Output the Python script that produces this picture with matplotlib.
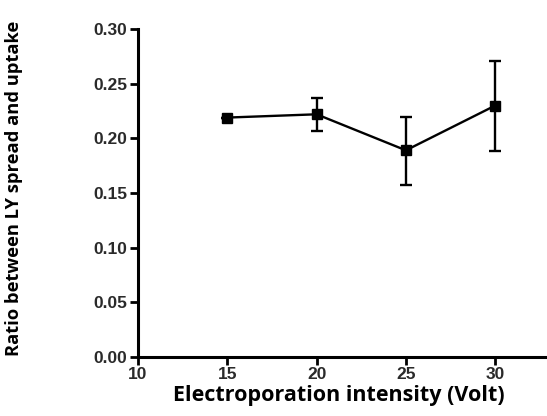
import numpy as np
import matplotlib.pyplot as plt

# data
voltage = [15, 20, 25, 30]
ratio = [0.219, 0.222, 0.189, 0.230]
err_low = [0.0, 0.015, 0.0315, 0.042]
err_high = [0.0, 0.015, 0.0305, 0.041]

x_ticks = [10, 15, 20, 25, 30]
y_ticks = [0.00, 0.05, 0.10, 0.15, 0.20, 0.25, 0.30]

fig = plt.figure(figsize=(5.47, 4.16), dpi=100)
ax = fig.add_axes([0.2523, 0.1425, 0.7477, 0.7875])

ax.errorbar(voltage, ratio, yerr=[err_low, err_high], color='black', lw=1.7,
            marker='s', ms=7, capsize=4, capthick=1.7, elinewidth=1.7)

ax.set_xlim(10, 32.9)
ax.set_ylim(0, 0.30)
ax.set_xticks(x_ticks)
ax.set_yticks(y_ticks)
ax.set_yticklabels([f'{v:.2f}' for v in y_ticks])

for side in ['top', 'right']:
    ax.spines[side].set_visible(False)
for side in ['left', 'bottom']:
    ax.spines[side].set_linewidth(2.2)
ax.tick_params(width=2.0, length=6, direction='out', pad=1.5, colors='black')
for lab in ax.get_xticklabels() + ax.get_yticklabels():
    lab.set_fontfamily('Liberation Sans')
    lab.set_fontweight('bold')
    lab.set_fontsize(12.5)
    lab.set_color('#2a2a2a')

ax.set_xlabel('Electroporation intensity (Volt)', fontfamily='Open Sans',
              fontweight='bold', fontsize=15.5)
ax.set_ylabel('Ratio between LY spread and uptake', fontfamily='Open Sans',
              fontweight='bold', fontsize=13.2)
ax.xaxis.set_label_coords(0.491, -0.086)
ax.yaxis.set_label_coords(-0.281, 0.515)

fig.savefig('out.png', dpi=100)
